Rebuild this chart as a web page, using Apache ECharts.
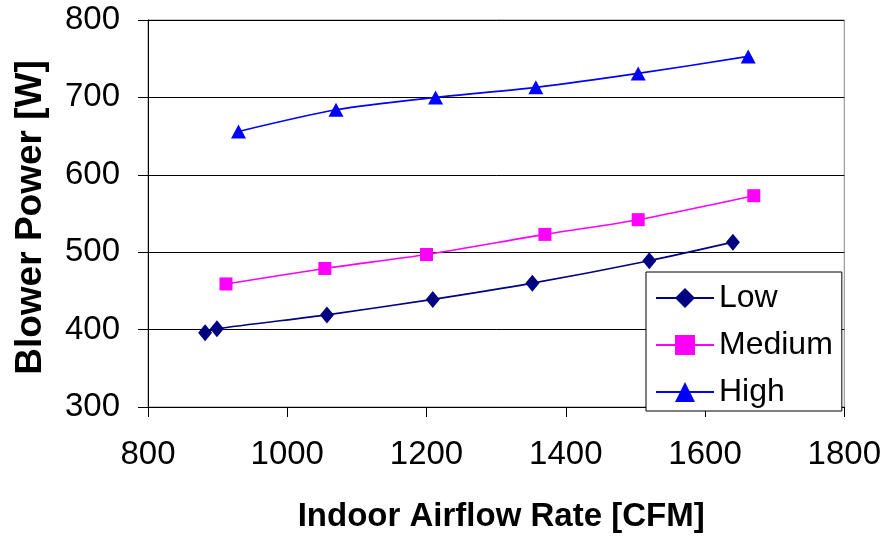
<!DOCTYPE html>
<html>
<head>
<meta charset="utf-8">
<script src="https://cdn.jsdelivr.net/npm/echarts@6/dist/echarts.min.js"></script>
<style>
  html, body { margin: 0; padding: 0; background: #fff; }
  #chart { width: 884px; height: 538px; }
</style>
</head>
<body>
<div id="chart"></div>
<script>
// Blower power vs. indoor airflow at three fan speed settings
const lowAirflow    = [882, 899, 1057, 1209, 1352, 1520, 1640];
const lowPower      = [396, 401, 419, 439, 460, 489, 513];
const mediumAirflow = [912, 1054, 1200, 1370, 1504, 1670];
const mediumPower   = [459, 479, 497, 523, 542, 573];
const highAirflow   = [930, 1070, 1213, 1357, 1504, 1662];
const highPower     = [656, 684, 700, 713, 731, 753];

const xTicks = [800, 1000, 1200, 1400, 1600, 1800];
const yTicks = [300, 400, 500, 600, 700, 800];

const pairs = (xs, ys) => xs.map((x, i) => [x, ys[i]]);
const FONT = '"Liberation Sans", Arial, sans-serif';

const chart = echarts.init(document.getElementById('chart'));

function lineSeries(name, xs, ys, color, symbol, size) {
  return {
    name: name,
    type: 'line',
    data: pairs(xs, ys),
    smooth: 0.25,
    symbol: symbol,
    symbolSize: size,
    lineStyle: { color: color, width: 1.6 },
    itemStyle: { color: color },
    emphasis: { disabled: true },
    z: 3
  };
}

chart.setOption({
  animation: false,
  backgroundColor: '#fff',
  grid: { left: 148, right: 39, top: 20, bottom: 127, containLabel: false,
          show: true, borderColor: '#888', borderWidth: 1 },
  xAxis: {
    type: 'value',
    min: xTicks[0], max: xTicks[xTicks.length - 1], interval: 200,
    name: 'Indoor Airflow Rate [CFM]',
    nameLocation: 'middle', nameGap: 93,
    nameTextStyle: { fontFamily: FONT, fontSize: 33, fontWeight: 'bold', color: '#000',
                     padding: [0, 0, 0, 10] },
    axisLine: { show: true, onZero: false, lineStyle: { color: '#000', width: 1 } },
    axisTick: { show: true, inside: false, length: 10, lineStyle: { color: '#000' } },
    axisLabel: { fontFamily: FONT, fontSize: 33, color: '#000', margin: 31,
                 formatter: v => String(v) },
    splitLine: { show: false }
  },
  yAxis: {
    type: 'value',
    min: yTicks[0], max: yTicks[yTicks.length - 1], interval: 100,
    name: 'Blower Power [W]',
    nameLocation: 'middle', nameGap: 99, nameRotate: 90,
    nameTextStyle: { fontFamily: FONT, fontSize: 37, fontWeight: 'bold', color: '#000',
                     padding: [0, 8, 0, 0] },
    axisLine: { show: true, onZero: false, lineStyle: { color: '#000', width: 1 } },
    axisTick: { show: true, inside: false, length: 10, lineStyle: { color: '#000' } },
    axisLabel: { fontFamily: FONT, fontSize: 33, color: '#000', margin: 28 },
    splitLine: { show: true, lineStyle: { color: '#000', width: 1 } }
  },
  legend: {
    orient: 'vertical',
    left: 646, top: 272,
    backgroundColor: '#fff',
    borderColor: '#000', borderWidth: 1,
    padding: [7, 9, 0, 9],
    itemGap: 9,
    itemWidth: 58, itemHeight: 25,
    textStyle: { fontFamily: FONT, fontSize: 32, lineHeight: 38, color: '#000' },
    data: ['Low', 'Medium', 'High']
  },
  series: [
    lineSeries('Low', lowAirflow, lowPower, '#000080', 'diamond', [14, 17]),
    lineSeries('Medium', mediumAirflow, mediumPower, '#FF00FF', 'rect', 13),
    lineSeries('High', highAirflow, highPower, '#0000FF', 'triangle', [15, 14])
  ]
});
</script>
</body>
</html>
